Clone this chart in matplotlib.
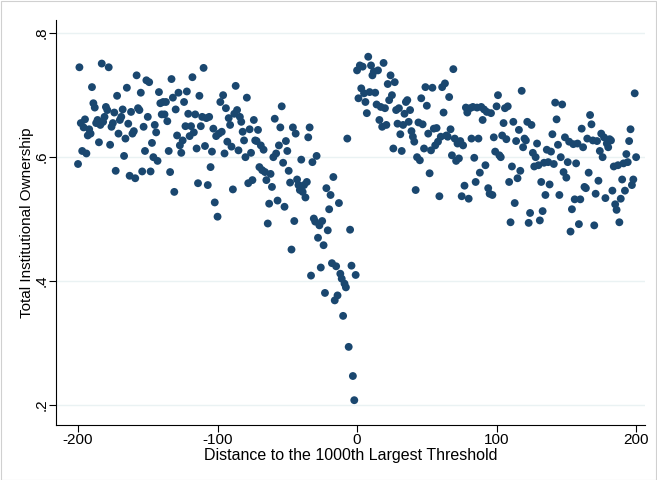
import numpy as np
import matplotlib
matplotlib.use("Agg")
import matplotlib.pyplot as plt
from matplotlib.patches import Rectangle

plt.rcParams['font.family'] = ['Liberation Sans', 'DejaVu Sans']

# Distance to the threshold (one bin per unit)
distance = np.arange(-200, 201)

# Mean total institutional ownership in each distance bin
ownership = [
    .589, .745, .655, .610, .648, .661, .606, .635, .645, .638,
    .713, .687, .680, .655, .660, .624, .652, .751, .657, .665,
    .681, .676, .745, .620, .649, .655, .672, .578, .699, .638,
    .660, .665, .677, .602, .630, .712, .654, .570, .673, .638,
    .642, .566, .732, .679, .676, .704, .577, .649, .610, .724,
    .665, .721, .577, .623, .600, .652, .640, .594, .705, .687,
    .669, .689, .669, .689, .658, .610, .576, .726, .696, .544,
    .677, .635, .704, .619, .607, .627, .689, .650, .706, .670,
    .634, .650, .729, .640, .669, .614, .558, .699, .650, .665,
    .744, .618, .663, .555, .665, .584, .609, .646, .527, .634,
    .504, .638, .689, .641, .700, .606, .679, .625, .663, .652,
    .617, .548, .670, .715, .676, .611, .665, .657, .641, .627,
    .600, .696, .558, .645, .607, .563, .660, .627, .626, .644,
    .584, .619, .579, .612, .576, .563, .493, .525, .573, .552,
    .600, .662, .606, .530, .619, .648, .682, .591, .520, .626,
    .610, .578, .559, .451, .648, .497, .638, .564, .555, .547,
    .596, .544, .555, .535, .560, .632, .648, .409, .592, .501,
    .496, .602, .470, .490, .422, .497, .458, .381, .550, .482,
    .516, .539, .429, .568, .369, .424, .377, .526, .412, .404,
    .344, .396, .390, .630, .294, .483, .425, .247, .208, .410,
    .740, .695, .748, .711, .746, .703, .689, .671, .762, .705,
    .748, .732, .738, .704, .685, .740, .660, .681, .649, .752,
    .679, .652, .718, .692, .732, .700, .614, .721, .676, .654,
    .679, .637, .610, .652, .670, .689, .692, .657, .676, .642,
    .633, .625, .547, .600, .656, .595, .695, .653, .614, .713,
    .683, .638, .574, .611, .712, .646, .619, .647, .625, .537,
    .633, .713, .672, .719, .635, .633, .697, .645, .603, .742,
    .630, .594, .622, .598, .626, .537, .619, .554, .680, .672,
    .533, .679, .630, .681, .599, .560, .680, .630, .575, .681,
    .660, .677, .587, .673, .550, .541, .671, .539, .632, .609,
    .682, .700, .603, .600, .635, .655, .679, .629, .682, .560,
    .495, .585, .657, .526, .626, .566, .644, .578, .707, .616,
    .630, .627, .657, .494, .510, .652, .607, .585, .600, .622,
    .587, .498, .560, .513, .591, .539, .612, .592, .556, .609,
    .637, .589, .688, .661, .620, .539, .600, .685, .576, .632,
    .567, .592, .625, .480, .516, .621, .532, .590, .622, .492,
    .532, .646, .616, .552, .550, .630, .575, .668, .653, .627,
    .490, .541, .626, .562, .610, .638, .600, .632, .534, .622,
    .616, .629, .627, .546, .585, .524, .515, .587, .495, .533,
    .564, .590, .546, .605, .592, .626, .645, .555, .564, .703,
    .600,
]

x_ticks = [-200, -100, 0, 100, 200]
x_tick_labels = ["-200", "-100", "0", "100", "200"]
y_ticks = [0.2, 0.4, 0.6, 0.8]
y_tick_labels = [".2", ".4", ".6", ".8"]

fig = plt.figure(figsize=(6.57, 4.80), dpi=100)
fig.patch.set_facecolor("white")
fig.add_artist(Rectangle((0.001, 0.001), 0.997, 0.997, transform=fig.transFigure,
                         fill=False, edgecolor="#d0d0d0", linewidth=0.8))

ax = fig.add_axes([0.0852, 0.1146, 0.8968, 0.8434])
ax.set_facecolor("white")

for yv in y_ticks:
    ax.axhline(yv, color="#eaf2f3", linewidth=1.0, zorder=0)

ax.scatter(distance, ownership, s=32, color="#1a476f", edgecolors="none", zorder=3)

ax.set_xlim(-215.8, 206.5)
ax.set_ylim(0.168, 0.821)

ax.set_xticks(x_ticks)
ax.set_xticklabels(x_tick_labels, fontsize=11)
ax.set_yticks(y_ticks)
ax.set_yticklabels(y_tick_labels, fontsize=11, rotation=90, va="center")

ax.tick_params(axis="x", direction="out", length=5, width=0.8, color="black", pad=1)
ax.tick_params(axis="y", direction="out", length=5, width=0.8, color="black", pad=0)

for side in ["top", "right"]:
    ax.spines[side].set_visible(False)
for side in ["left", "bottom"]:
    ax.spines[side].set_color("black")
    ax.spines[side].set_linewidth(0.8)

ax.set_xlabel("Distance to the 1000th Largest Threshold", fontsize=11.5, labelpad=0.5)
ax.set_ylabel("Total Institutional Ownership", fontsize=11, labelpad=0.5)

fig.savefig("out.png", dpi=100, facecolor="white")
